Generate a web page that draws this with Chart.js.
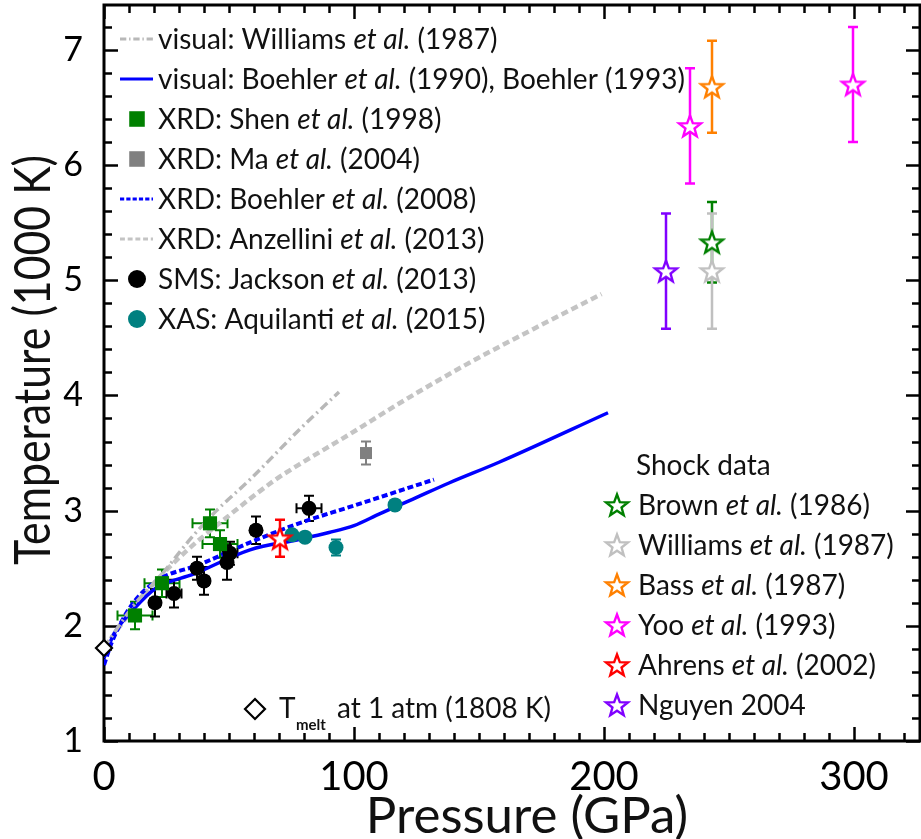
<!DOCTYPE html>
<html>
<head>
<meta charset="utf-8">
<script src="https://cdn.jsdelivr.net/npm/chart.js@4.4.1/dist/chart.umd.min.js"></script>
<style>
html, body { margin: 0; padding: 0; background: #fff; }
#wrap { width: 921px; height: 839px; }
</style>
</head>
<body>
<div id="wrap"><canvas id="meltChart"></canvas></div>
<script>
// <![CDATA[
// values: pressure in GPa, temperature in 1000 K
var pressureTicks = [0, 100, 200, 300];
var tempTicks = [1, 2, 3, 4, 5, 6, 7];

// curves
var williamsVisP = [0, 12, 23.6, 34.4, 45, 58.4, 78, 94];
var williamsVisT = [1.81, 2.18, 2.46, 2.75, 3.0, 3.27, 3.70, 4.03];
var boehlerVisP = [0, 4, 11.7, 21, 36, 58.4, 78, 90, 100, 110, 123.6, 138, 158, 201.6];
var boehlerVisT = [1.72, 1.93, 2.14, 2.33, 2.45, 2.66, 2.75, 2.81, 2.87, 2.97, 3.10, 3.24, 3.42, 3.85];
var boehlerXrdP = [0, 3, 10.4, 21, 38, 58, 78, 98, 108, 132];
var boehlerXrdT = [1.66, 1.85, 2.16, 2.39, 2.53, 2.72, 2.89, 3.03, 3.10, 3.27];
var anzelliniP = [0, 10, 20, 33, 49, 68, 78, 98, 118, 145, 172, 199];
var anzelliniT = [1.81, 2.10, 2.37, 2.65, 2.94, 3.26, 3.40, 3.66, 3.93, 4.27, 4.58, 4.88];

// static measurements
var shenP = [12.4, 23.2, 42.4, 46.4];
var shenT = [2.09, 2.37, 2.89, 2.71];
var shenPErr = [7, 7, 7, 7];
var shenTErr = [0.12, 0.12, 0.12, 0.12];
var maP = [104.8];
var maT = [3.50];
var maTErr = [0.1];
var jacksonP = [20.4, 28, 37.2, 40, 49.2, 50.4, 60.8, 82];
var jacksonT = [2.20, 2.28, 2.50, 2.39, 2.55, 2.63, 2.83, 3.02];
var jacksonPErr = [2, 3, 2, 2, 2, 3, 2, 5];
var jacksonTErr = [0.12, 0.12, 0.1, 0.12, 0.15, 0.1, 0.12, 0.11];
var aquilantiP = [75.2, 80.4, 92.8, 116.4];
var aquilantiT = [2.79, 2.77, 2.68, 3.05];
var aquilantiTErr = [0.03, 0.03, 0.07, 0.03];
var tmeltP = [0];
var tmeltT = [1.808];

// shock data
var brownP = [243.2], brownT = [5.33], brownTErr = [0.35];
var williamsShP = [243.2], williamsShT = [5.08], williamsShTErr = [0.5];
var bassP = [243.2], bassT = [6.68], bassTErr = [0.4];
var yooP = [234.4, 299.6], yooT = [6.34, 6.70], yooTErr = [0.5, 0.5];
var ahrensP = [70.4], ahrensT = [2.76], ahrensTErr = [0.16];
var nguyenP = [224.8], nguyenT = [5.08], nguyenTErr = [0.5];

var methodLabels = ['visual: Williams et al. (1987)', 'visual: Boehler et al. (1990), Boehler (1993)',
    'XRD: Shen et al. (1998)', 'XRD: Ma et al. (2004)', 'XRD: Boehler et al. (2008)',
    'XRD: Anzellini et al. (2013)', 'SMS: Jackson et al. (2013)', 'XAS: Aquilanti et al. (2015)'];
var shockLabels = ['Brown et al. (1986)', 'Williams et al. (1987)', 'Bass et al. (1987)',
    'Yoo et al. (1993)', 'Ahrens et al. (2002)', 'Nguyen 2004'];

var TEXT_FONT = 'Lato, "Open Sans", sans-serif';

function pairs(xs, ys) {
    return xs.map(function (x, i) { return { x: x, y: ys[i] }; });
}

// open five-point star used as point style
function starImage(color) {
    var c = document.createElement('canvas');
    c.width = 28; c.height = 28;
    var g = c.getContext('2d');
    g.beginPath();
    for (var k = 0; k < 10; k++) {
        var r = k % 2 ? 4.8 : 11.5;
        var a = -Math.PI / 2 + k * Math.PI / 5;
        g.lineTo(14 + r * Math.cos(a), 15 + r * Math.sin(a));
    }
    g.closePath();
    g.fillStyle = '#fff';
    g.fill();
    g.lineWidth = 2.4;
    g.strokeStyle = color;
    g.stroke();
    return c;
}

function curve(label, xs, ys, color, width, dash, legendRow) {
    return {
        label: label, data: pairs(xs, ys), showLine: true, fill: false,
        borderColor: color, borderWidth: width, borderDash: dash, borderCapStyle: 'butt',
        cubicInterpolationMode: 'monotone', pointRadius: 0, order: 3,
        legendGroup: 1, legendRow: legendRow, legendKind: 'line'
    };
}

function markers(label, xs, ys, color, style, radius, errT, errP, legendRow, legendRadius) {
    return {
        label: label, data: pairs(xs, ys), showLine: false,
        backgroundColor: color, borderColor: color, borderWidth: 0,
        pointStyle: style, pointRadius: radius, pointHoverRadius: radius, clip: false, order: 2,
        errT: errT, errP: errP, barColor: color, barWidth: 2,
        legendGroup: 1, legendRow: legendRow, legendKind: 'point', legendRadius: legendRadius
    };
}

function shock(label, xs, ys, color, errT, legendRow) {
    var img = starImage(color);
    return {
        label: label, data: pairs(xs, ys), showLine: false,
        backgroundColor: color, borderColor: color, pointStyle: img, pointRadius: 12, clip: false, order: 1,
        errT: errT, barColor: color, barWidth: 2.5,
        legendGroup: 2, legendRow: legendRow, legendKind: 'point', legendRadius: 12
    };
}

var datasets = [
    curve(methodLabels[0], williamsVisP, williamsVisT, '#b8b8b8', 3.5, [9, 4, 2, 4], 0),
    curve(methodLabels[1], boehlerVisP, boehlerVisT, '#0000ff', 3.5, [], 1),
    markers(methodLabels[2], shenP, shenT, '#008000', 'rect', 10, shenTErr, shenPErr, 2, 11),
    markers(methodLabels[3], maP, maT, '#808080', 'rect', 8.5, maTErr, null, 3, 11),
    curve(methodLabels[4], boehlerXrdP, boehlerXrdT, '#0000ff', 4, [6, 3], 4),
    curve(methodLabels[5], anzelliniP, anzelliniT, '#c4c4c4', 4.5, [7, 4], 5),
    markers(methodLabels[6], jacksonP, jacksonT, '#000000', 'circle', 7.5, jacksonTErr, jacksonPErr, 6, 9),
    markers(methodLabels[7], aquilantiP, aquilantiT, '#008080', 'circle', 7.5, aquilantiTErr, null, 7, 9),
    shock(shockLabels[0], brownP, brownT, '#008000', brownTErr, 0),
    shock(shockLabels[1], williamsShP, williamsShT, '#c0c0c0', williamsShTErr, 1),
    shock(shockLabels[2], bassP, bassT, '#ff8000', bassTErr, 2),
    shock(shockLabels[3], yooP, yooT, '#ff00ff', yooTErr, 3),
    shock(shockLabels[4], ahrensP, ahrensT, '#ff0000', ahrensTErr, 4),
    shock(shockLabels[5], nguyenP, nguyenT, '#8000ff', nguyenTErr, 5),
    {
        label: 'T melt at 1 atm (1808 K)', data: pairs(tmeltP, tmeltT), showLine: false,
        backgroundColor: '#fff', borderColor: '#000', borderWidth: 2.2,
        pointStyle: 'rectRot', pointRadius: 8, clip: false, order: 0
    }
];

// box frame with inward major and minor ticks on all four sides
var framePlugin = {
    id: 'frame',
    beforeDatasetsDraw: function (chart) {
        var ctx = chart.ctx, a = chart.chartArea, xs = chart.scales.x, ys = chart.scales.y;
        ctx.save();
        ctx.strokeStyle = '#000';
        ctx.lineWidth = 2.5;
        ctx.beginPath();
        for (var p = 0; p <= xs.max; p += 10) {
            var px = Math.round(xs.getPixelForValue(p)) + 0.5;
            var len = p % 100 === 0 ? 14 : 8;
            ctx.moveTo(px, a.bottom); ctx.lineTo(px, a.bottom - len);
            ctx.moveTo(px, a.top); ctx.lineTo(px, a.top + len);
        }
        for (var t = 10; t <= ys.max * 10; t += 2) {
            var py = Math.round(ys.getPixelForValue(t / 10)) + 0.5;
            var tl = t % 10 === 0 ? 14 : 8;
            ctx.moveTo(a.left, py); ctx.lineTo(a.left + tl, py);
            ctx.moveTo(a.right, py); ctx.lineTo(a.right - tl, py);
        }
        ctx.stroke();
        ctx.lineWidth = 3;
        ctx.strokeRect(a.left, a.top, a.right - a.left, a.bottom - a.top);
        ctx.restore();
    }
};

var errorBarPlugin = {
    id: 'errorBars',
    beforeDatasetsDraw: function (chart) {
        var ctx = chart.ctx, xs = chart.scales.x, ys = chart.scales.y, cap = 5;
        chart.data.datasets.forEach(function (ds) {
            if (!ds.errT && !ds.errP) return;
            ctx.save();
            ctx.strokeStyle = ds.barColor;
            ctx.lineWidth = ds.barWidth;
            ctx.beginPath();
            ds.data.forEach(function (pt, k) {
                var px = xs.getPixelForValue(pt.x), py = ys.getPixelForValue(pt.y);
                if (ds.errT) {
                    var y1 = ys.getPixelForValue(pt.y - ds.errT[k]), y2 = ys.getPixelForValue(pt.y + ds.errT[k]);
                    ctx.moveTo(px, y1); ctx.lineTo(px, y2);
                    ctx.moveTo(px - cap, y1); ctx.lineTo(px + cap, y1);
                    ctx.moveTo(px - cap, y2); ctx.lineTo(px + cap, y2);
                }
                if (ds.errP) {
                    var x1 = xs.getPixelForValue(pt.x - ds.errP[k]), x2 = xs.getPixelForValue(pt.x + ds.errP[k]);
                    ctx.moveTo(x1, py); ctx.lineTo(x2, py);
                    ctx.moveTo(x1, py - cap); ctx.lineTo(x1, py + cap);
                    ctx.moveTo(x2, py - cap); ctx.lineTo(x2, py + cap);
                }
            });
            ctx.stroke();
            ctx.restore();
        });
    }
};

// label text with "et al." set in italics
function richText(ctx, text, x, y, size) {
    var cx = x;
    text.split(/(et al\.)/).forEach(function (part) {
        if (!part) return;
        ctx.font = (part === 'et al.' ? 'italic ' : '') + size + 'px ' + TEXT_FONT;
        ctx.fillText(part, cx, y);
        cx += ctx.measureText(part).width;
    });
    return cx;
}

function legendSymbol(ctx, ds, x, y) {
    if (ds.legendKind === 'line') {
        ctx.save();
        ctx.strokeStyle = ds.borderColor;
        ctx.lineWidth = Math.min(ds.borderWidth, 3);
        ctx.setLineDash(ds.borderDash.map(function (d) { return d * 0.7; }));
        ctx.beginPath();
        ctx.moveTo(x - 17, y); ctx.lineTo(x + 16, y);
        ctx.stroke();
        ctx.restore();
        return;
    }
    ctx.save();
    ctx.fillStyle = ds.backgroundColor;
    ctx.strokeStyle = ds.borderColor;
    Chart.helpers.drawPoint(ctx, { pointStyle: ds.pointStyle, radius: ds.legendRadius, rotation: 0, borderWidth: 0 }, x, y);
    ctx.restore();
}

var legendPlugin = {
    id: 'richLegend',
    afterDraw: function (chart) {
        var ctx = chart.ctx, size = 28;
        ctx.save();
        ctx.fillStyle = '#111';
        ctx.textBaseline = 'middle';
        chart.data.datasets.forEach(function (ds) {
            if (ds.legendGroup === 1) {
                var y1 = 39 + ds.legendRow * 40;
                legendSymbol(ctx, ds, 137, y1);
                ctx.fillStyle = '#111';
                richText(ctx, ds.label, 158, y1 + 1, size);
            } else if (ds.legendGroup === 2) {
                var y2 = 505 + ds.legendRow * 40;
                legendSymbol(ctx, ds, 617, y2);
                ctx.fillStyle = '#111';
                richText(ctx, ds.label, 638, y2 + 1, size);
            }
        });
        ctx.font = size + 'px ' + TEXT_FONT;
        ctx.fillText('Shock data', 636, 466);

        // melting point note
        ctx.fillStyle = '#fff';
        ctx.strokeStyle = '#000';
        ctx.lineWidth = 2.2;
        Chart.helpers.drawPoint(ctx, { pointStyle: 'rectRot', radius: 10, rotation: 0, borderWidth: 2.2 }, 255, 709);
        ctx.fillStyle = '#111';
        ctx.textBaseline = 'alphabetic';
        ctx.font = size + 'px ' + TEXT_FONT;
        ctx.fillText('T', 279, 718);
        ctx.font = 'bold 15px ' + TEXT_FONT;
        ctx.fillText('melt', 296, 730);
        ctx.font = size + 'px ' + TEXT_FONT;
        ctx.fillText('at 1 atm (1808 K)', 337, 718);

        // axis titles
        ctx.font = '51px ' + TEXT_FONT;
        ctx.textAlign = 'center';
        ctx.fillText('Pressure (GPa)', 527, 833);
        ctx.save();
        ctx.translate(50, 360);
        ctx.rotate(-Math.PI / 2);
        ctx.scale(0.84, 1);
        ctx.font = '51px ' + TEXT_FONT;
        ctx.fillText('Temperature (1000 K)', 0, 0);
        ctx.restore();
        ctx.restore();
    }
};

function noPadding(s) {
    s.paddingTop = 0; s.paddingBottom = 0; s.paddingLeft = 0; s.paddingRight = 0;
}

var config = {
    type: 'scatter',
    data: { datasets: datasets },
    options: {
        responsive: true,
        maintainAspectRatio: false,
        animation: false,
        devicePixelRatio: 1,
        layout: { autoPadding: false, padding: { top: 5, right: 1, left: 0, bottom: 0 } },
        plugins: { legend: { display: false }, tooltip: { enabled: false } },
        scales: {
            x: {
                type: 'linear', min: 0, max: 326.4,
                afterBuildTicks: function (s) { s.ticks = pressureTicks.map(function (v) { return { value: v }; }); },
                afterFit: function (s) { s.height = 98; noPadding(s); },
                grid: { display: false, drawTicks: false },
                border: { display: false },
                ticks: { color: '#000', padding: 12, font: { family: TEXT_FONT, size: 40 } }
            },
            y: {
                type: 'linear', min: 1, max: 7.39,
                afterBuildTicks: function (s) { s.ticks = tempTicks.map(function (v) { return { value: v }; }); },
                afterFit: function (s) { s.width = 104; noPadding(s); },
                grid: { display: false, drawTicks: false },
                border: { display: false },
                ticks: { color: '#000', padding: 21, font: { family: TEXT_FONT, size: 34 } }
            }
        }
    },
    plugins: [framePlugin, errorBarPlugin, legendPlugin]
};

var meltChart = new Chart(document.getElementById('meltChart').getContext('2d'), config);
// ]]>
</script>
</body>
</html>
